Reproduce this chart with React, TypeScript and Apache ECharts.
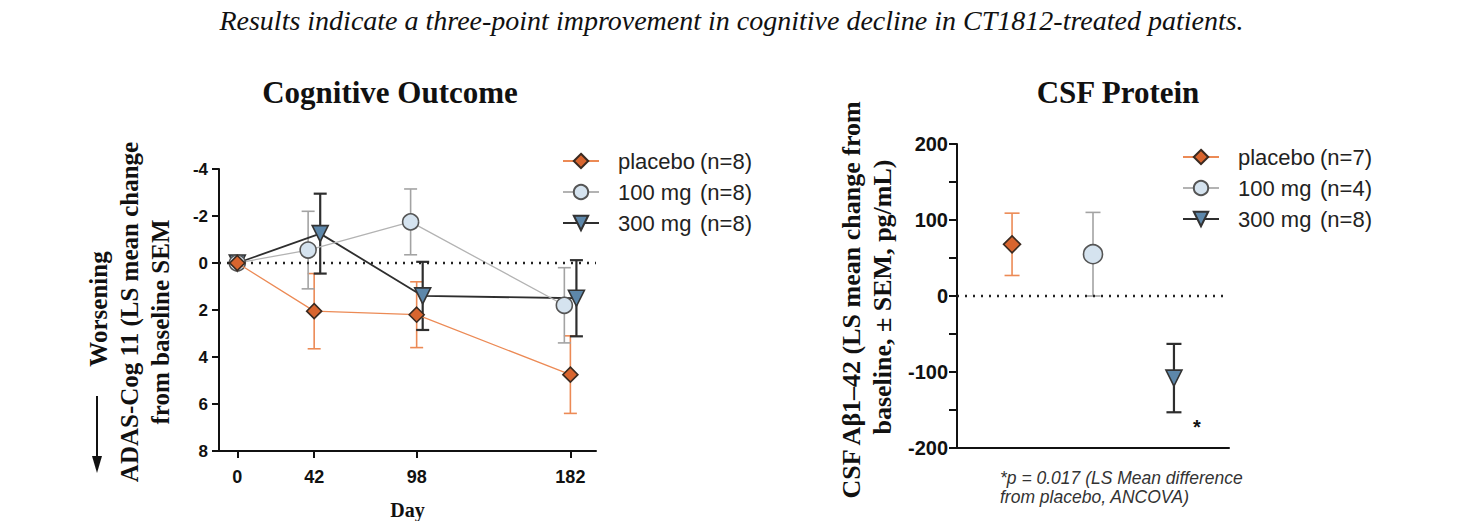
import React, { useEffect, useRef } from 'react';
import * as echarts from 'echarts';

// ---------- Data ----------
const CAPTION = 'Results indicate a three-point improvement in cognitive decline in CT1812-treated patients.';
const COG_TITLE = 'Cognitive Outcome';
const CSF_TITLE = 'CSF Protein';

const DAYS = [0, 42, 98, 182];
const COG_GROUPS = ['placebo (n=8)', '100 mg  (n=8)', '300 mg  (n=8)'];
const COG_PLACEBO_MEAN = [0, 2.05, 2.2, 4.75];
const COG_PLACEBO_SEM = [0.15, 1.6, 1.4, 1.65];
const COG_100_MEAN = [0, -0.55, -1.75, 1.8];
const COG_100_SEM = [0.15, 1.65, 1.4, 1.6];
const COG_300_MEAN = [0, -1.25, 1.4, 1.5];
const COG_300_SEM = [0.15, 1.7, 1.45, 1.62];
const COG_Y_TICKS = [-4, -2, 0, 2, 4, 6, 8];

const CSF_GROUPS = ['placebo (n=7)', '100 mg (n=4)', '300 mg (n=8)'];
const CSF_MEAN = [68, 55, -108];
const CSF_SEM = [41, 55, 45];
const CSF_Y_TICKS = [-200, -100, 0, 100, 200];

const FOOTNOTE = ['*p = 0.017 (LS Mean difference', 'from placebo, ANCOVA)'];

// ---------- Styles ----------
const SERIF = 'Liberation Serif';
const SANS = 'Liberation Sans';
const DODGE = [0, -3.3, 3.3];
const STYLES = [
  { line: '#ec8a55', lineWidth: 1.3, err: '#ec8a55', errWidth: 1.6, fill: '#d8652f', border: '#3a2a20', symbol: 'diamond', size: 15, csfSize: 17, rotate: 0 },
  { line: '#b3b3b3', lineWidth: 1.3, err: '#a3a3a3', errWidth: 1.6, fill: '#d5e3ef', border: '#555555', symbol: 'circle', size: 16, csfSize: 19, rotate: 0 },
  { line: '#2e2e2e', lineWidth: 1.8, err: '#2e2e2e', errWidth: 2.2, fill: '#5d87aa', border: '#333333', symbol: 'triangle', size: 16, csfSize: 16, rotate: 180 },
];

const errorBar = (color: string, width: number, cap: number) => (params: any, api: any) => {
  const x = api.value(0);
  const a = api.coord([x, api.value(1)]);
  const b = api.coord([x, api.value(2)]);
  const h = cap / 2;
  const st = { stroke: color, lineWidth: width };
  return {
    type: 'group',
    children: [
      { type: 'line', shape: { x1: a[0], y1: a[1], x2: b[0], y2: b[1] }, style: st },
      { type: 'line', shape: { x1: a[0] - h, y1: a[1], x2: a[0] + h, y2: a[1] }, style: st },
      { type: 'line', shape: { x1: b[0] - h, y1: b[1], x2: b[0] + h, y2: b[1] }, style: st },
    ],
  };
};

const legendFmt = (name: string) => {
  const i = name.indexOf('(');
  return `{a|${name.slice(0, i).trim()}}{b|${name.slice(i)}}`;
};

function buildOption() {
  const cogMeans = [COG_PLACEBO_MEAN, COG_100_MEAN, COG_300_MEAN];
  const cogSems = [COG_PLACEBO_SEM, COG_100_SEM, COG_300_SEM];
  const series: any[] = [];
  const zeroLine = {
    silent: true,
    symbol: 'none',
    label: { show: false },
    lineStyle: { type: [2, 6], color: '#222', width: 2.4 },
    data: [{ yAxis: 0 }],
  };

  cogMeans.forEach((means, g) => {
    const s = STYLES[g];
    const xs = DAYS.map((d, i) => (i === 0 ? d : d + DODGE[g]));
    series.push({
      type: 'custom',
      name: 'cog-err-' + g,
      xAxisIndex: 0,
      yAxisIndex: 0,
      z: 2,
      silent: true,
      encode: { x: 0, y: [1, 2] },
      renderItem: errorBar(s.err, s.errWidth, 13),
      data: means.map((m, i) => [xs[i], m - cogSems[g][i], m + cogSems[g][i]]),
    });
  });
  cogMeans.forEach((means, g) => {
    const s = STYLES[g];
    const xs = DAYS.map((d, i) => (i === 0 ? d : d + DODGE[g]));
    series.push({
      type: 'line',
      name: COG_GROUPS[g],
      xAxisIndex: 0,
      yAxisIndex: 0,
      z: 3 + (2 - g),
      symbol: s.symbol,
      symbolSize: s.size,
      symbolRotate: s.rotate,
      showAllSymbol: true,
      lineStyle: { color: s.line, width: s.lineWidth },
      itemStyle: { color: s.fill, borderColor: s.border, borderWidth: 1.6 },
      data: means.map((m, i) => [xs[i], m]),
      markLine: g === 0 ? zeroLine : undefined,
    });
  });

  CSF_GROUPS.forEach((name, g) => {
    const s = STYLES[g];
    series.push({
      type: 'custom',
      name: 'csf-err-' + g,
      xAxisIndex: 1,
      yAxisIndex: 1,
      z: 2,
      silent: true,
      encode: { x: 0, y: [1, 2] },
      renderItem: errorBar(s.err, s.errWidth, 15),
      data: [[g, CSF_MEAN[g] - CSF_SEM[g], CSF_MEAN[g] + CSF_SEM[g]]],
    });
  });
  CSF_GROUPS.forEach((name, g) => {
    const s = STYLES[g];
    series.push({
      type: 'line',
      name,
      xAxisIndex: 1,
      yAxisIndex: 1,
      z: 4,
      symbol: s.symbol,
      symbolSize: s.csfSize,
      symbolRotate: s.rotate,
      lineStyle: { color: s.line, width: s.lineWidth },
      itemStyle: { color: s.fill, borderColor: s.border, borderWidth: 1.6 },
      data: [[g, CSF_MEAN[g]]],
      markLine: g === 0 ? zeroLine : undefined,
    });
  });

  const legendText = (fs: number) => ({
    fontFamily: SANS,
    fontSize: fs,
    color: '#222',
    rich: {
      a: { fontFamily: SANS, fontSize: fs, color: '#222', width: 82, padding: [0, 0, 0, 14] },
      b: { fontFamily: SANS, fontSize: fs, color: '#222' },
    },
  });

  const axisLineStyle = { color: '#111', width: 2 };
  const vText = (text: string, x: number, y: number, size: number) => ({
    type: 'text', x, y, rotation: Math.PI / 2,
    style: { text, font: `bold ${size}px "${SERIF}"`, fill: '#111', align: 'center', verticalAlign: 'middle' },
  });

  return {
    animation: false,
    backgroundColor: '#ffffff',
    grid: [
      { left: 219, top: 169, width: 377, height: 282, containLabel: false, outerBoundsMode: 'none' },
      { left: 957, top: 144, width: 272, height: 304, containLabel: false, outerBoundsMode: 'none' },
    ],
    xAxis: [
      {
        type: 'value', gridIndex: 0, min: -10, max: 196,
        name: 'Day', nameLocation: 'middle', nameGap: 49,
        nameTextStyle: { fontFamily: SERIF, fontWeight: 'bold', fontSize: 20, color: '#111' },
        axisLine: { show: true, onZero: false, lineStyle: axisLineStyle },
        axisTick: { show: true, length: 7, customValues: DAYS, lineStyle: axisLineStyle },
        axisLabel: { customValues: DAYS, fontFamily: SANS, fontWeight: 'bold', fontSize: 18, color: '#111', margin: 17 },
        splitLine: { show: false },
      },
      {
        type: 'value', gridIndex: 1, min: -0.68, max: 2.68,
        axisLine: { show: true, onZero: false, lineStyle: axisLineStyle },
        axisTick: { show: false },
        axisLabel: { show: false },
        splitLine: { show: false },
      },
    ],
    yAxis: [
      {
        type: 'value', gridIndex: 0, min: COG_Y_TICKS[0], max: COG_Y_TICKS[COG_Y_TICKS.length - 1], interval: 2, inverse: true,
        axisLine: { show: true, onZero: false, lineStyle: axisLineStyle },
        axisTick: { show: true, length: 7, lineStyle: axisLineStyle },
        axisLabel: { fontFamily: SANS, fontWeight: 'bold', fontSize: 17, color: '#111', margin: 11 },
        splitLine: { show: false },
      },
      {
        type: 'value', gridIndex: 1, min: CSF_Y_TICKS[0], max: CSF_Y_TICKS[CSF_Y_TICKS.length - 1], interval: 50,
        axisLine: { show: true, onZero: false, lineStyle: axisLineStyle },
        axisTick: { show: true, length: 8, lineStyle: axisLineStyle },
        axisLabel: {
          fontFamily: SANS, fontWeight: 'bold', fontSize: 20, color: '#111', margin: 9,
          formatter: (v: number) => (CSF_Y_TICKS.includes(v) ? String(v) : ''),
        },
        splitLine: { show: false },
      },
    ],
    legend: [
      {
        orient: 'vertical', left: 557, top: 145, itemWidth: 36, itemHeight: 18, itemGap: 9,
        selectedMode: false, data: COG_GROUPS, formatter: legendFmt, textStyle: legendText(22),
      },
      {
        orient: 'vertical', left: 1177, top: 141, itemWidth: 36, itemHeight: 18, itemGap: 9,
        selectedMode: false, data: CSF_GROUPS, formatter: legendFmt, textStyle: legendText(22),
      },
    ],
    graphic: [
      {
        type: 'text', left: 'center', top: 6,
        style: { text: CAPTION, font: `italic 28px "${SERIF}"`, fill: '#111' },
      },
      {
        type: 'text', x: 390, y: 92,
        style: { text: COG_TITLE, font: `bold 31px "${SERIF}"`, fill: '#111', align: 'center', verticalAlign: 'middle' },
      },
      {
        type: 'text', x: 1118, y: 92,
        style: { text: CSF_TITLE, font: `bold 31px "${SERIF}"`, fill: '#111', align: 'center', verticalAlign: 'middle' },
      },
      // Left y-axis label
      vText('Worsening', 98, 309, 25),
      vText('ADAS-Cog 11 (LS mean change', 129, 312, 25),
      vText('from baseline SEM', 160, 322, 25),
      {
        type: 'line', shape: { x1: 97, y1: 396, x2: 97, y2: 462 },
        style: { stroke: '#111', lineWidth: 2 },
      },
      {
        type: 'polygon', shape: { points: [[92, 456], [102, 456], [97, 473]] },
        style: { fill: '#111' },
      },
      // Right y-axis label
      vText('CSF Aβ1–42 (LS mean change from', 851, 300, 26),
      vText('baseline, ± SEM, pg/mL)', 882, 297, 26),
      {
        type: 'text', x: 1197, y: 427,
        style: { text: '*', font: `bold 20px "${SANS}"`, fill: '#111', align: 'center', verticalAlign: 'middle' },
      },
      {
        type: 'text', x: 1000, y: 478,
        style: { text: FOOTNOTE[0], font: `italic 17.5px "${SANS}"`, fill: '#333', align: 'left', verticalAlign: 'middle' },
      },
      {
        type: 'text', x: 1000, y: 497,
        style: { text: FOOTNOTE[1], font: `italic 17.5px "${SANS}"`, fill: '#333', align: 'left', verticalAlign: 'middle' },
      },
    ],
    series,
  };
}

export default function App() {
  const ref = useRef<HTMLDivElement>(null);
  useEffect(() => {
    document.body.style.margin = '0';
    if (!ref.current) return;
    const chart = echarts.init(ref.current, null, { renderer: 'svg' });
    chart.setOption(buildOption() as any);
    return () => chart.dispose();
  }, []);
  return <div ref={ref} style={{ width: 1463, height: 521 }} />;
}
